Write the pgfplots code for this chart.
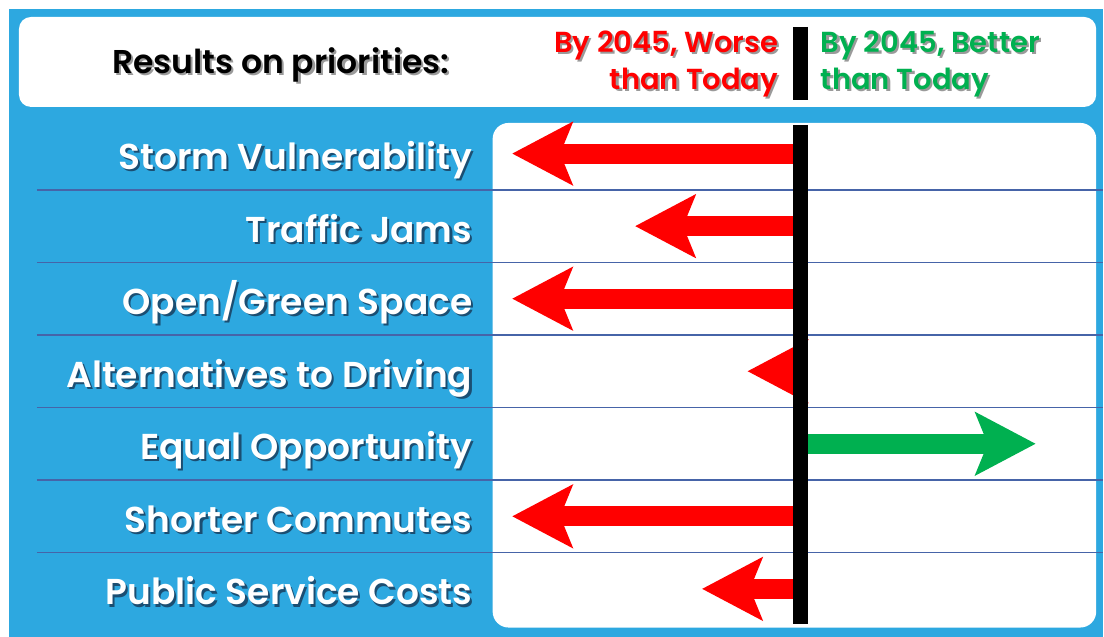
\documentclass[border=0pt]{standalone}
\usepackage{fontspec}
\setmainfont{Poppins}[BoldFont={Poppins SemiBold}]
\usepackage{pgfplots}
\pgfplotsset{compat=1.18}
\usetikzlibrary{arrows.meta}

\definecolor{bg}{HTML}{2DA8E0}
\definecolor{rowline}{HTML}{4664A8}
\definecolor{worse}{HTML}{FF0000}
\definecolor{better}{HTML}{00B050}
\definecolor{shblue}{HTML}{1B4E72}
\definecolor{shgray}{HTML}{9A9A9A}

% text with a small drop shadow
\newcommand\sh[2]{\leavevmode\rlap{\kern1.1pt\raisebox{-1.1pt}{\textcolor{#1}{#2}}}#2}

\tikzset{
  harrow/.style={line width=10pt, -{Stealth[length=30pt,width=31pt,inset=6pt]}},
}

\begin{document}
\begin{tikzpicture}
% background panels, 1px = 0.5pt
\begin{scope}[x=0.5pt,y=-0.5pt]
  \fill[white] (0,0) rectangle (1104,637);
  \fill[bg] (9,9) rectangle (1104,637);
  \fill[white,rounded corners=6pt] (19,17) rectangle (1097,107);
  \fill[white,rounded corners=8pt] (493,123) rectangle (1097,628);
  \foreach \y in {190,262.6,335.2,407.8,480.4,553}
    \draw[rowline,line width=0.8pt] (37,\y) -- (1104,\y);
  % header
  \node[font=\bfseries\fontsize{16.5}{20}\selectfont,text=black] at (281,66)
    {\sh{shgray}{Results on priorities:}};
  \node[anchor=east,align=right,inner sep=0pt,text=worse,
        font=\bfseries\fontsize{14.5}{18.5}\selectfont] at (779,65)
    {\sh{shgray}{By 2045, Worse}\\\sh{shgray}{than Today}};
  \node[anchor=west,align=left,inner sep=0pt,text=better,
        font=\bfseries\fontsize{14.5}{18.5}\selectfont] at (821,65)
    {\sh{shgray}{By 2045, Better}\\\sh{shgray}{than Today}};
  \draw[line width=7.5pt] (801.5,27) -- (801.5,100);
\end{scope}

\begin{axis}[
  at={(246.5pt,-58.7pt)}, anchor=north west,
  scale only axis, width=302pt, height=254.1pt,
  xmin=-3.085, xmax=2.955, ymin=-0.5, ymax=6.5,
  y dir=reverse, clip=false,
  axis line style={draw=none}, major tick length=0pt,
  xtick=\empty, ytick={0,...,6},
  yticklabels={
    \sh{shblue}{Storm Vulnerability},
    \sh{shblue}{Traffic Jams},
    \sh{shblue}{Open/Green Space},
    \sh{shblue}{Alternatives to Driving},
    \sh{shblue}{Equal Opportunity},
    \sh{shblue}{Shorter Commutes},
    \sh{shblue}{Public Service Costs}},
  yticklabel style={anchor=base east, inner sep=0pt, xshift=-10pt, yshift=-8pt,
    text=white, font=\bfseries\fontsize{18}{20}\selectfont},
]
\addplot[worse, harrow]  coordinates {(0,0) (-2.89,0)};
\addplot[worse, harrow]  coordinates {(0,1) (-1.66,1)};
\addplot[worse, harrow]  coordinates {(0,2) (-2.89,2)};
\addplot[worse, harrow]  coordinates {(0,3) (-0.535,3)};
\addplot[better, harrow] coordinates {(0,4) (2.35,4)};
\addplot[worse, harrow]  coordinates {(0,5) (-2.89,5)};
\addplot[worse, harrow]  coordinates {(0,6) (-0.99,6)};
\end{axis}

\begin{scope}[x=0.5pt,y=-0.5pt]
  \draw[line width=7.5pt] (801.5,125) -- (801.5,624);
\end{scope}
\end{tikzpicture}
\end{document}
